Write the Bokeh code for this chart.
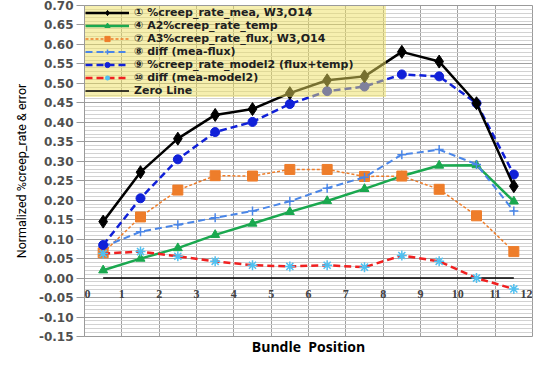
from bokeh.plotting import figure
from bokeh.models import Range1d, FixedTicker, NumeralTickFormatter, ColumnDataSource, LabelSet
from bokeh.embed import file_html
from bokeh.resources import INLINE

# ---- data ----
positions = [0.5, 1.5, 2.5, 3.5, 4.5, 5.5, 6.5, 7.5, 8.5, 9.5, 10.5, 11.5]
mea = [0.145, 0.272, 0.358, 0.419, 0.434, 0.475, 0.508, 0.518, 0.581, 0.556, 0.449, 0.236]
temp = [0.020, 0.050, 0.077, 0.111, 0.140, 0.170, 0.198, 0.229, 0.262, 0.289, 0.290, 0.197]
flux = [0.065, 0.157, 0.226, 0.263, 0.262, 0.279, 0.279, 0.261, 0.262, 0.228, 0.160, 0.068]
diff_flux = [0.080, 0.119, 0.137, 0.155, 0.172, 0.197, 0.231, 0.259, 0.317, 0.330, 0.292, 0.172]
model2 = [0.085, 0.205, 0.305, 0.375, 0.401, 0.447, 0.480, 0.492, 0.523, 0.518, 0.449, 0.266]
diff_model2 = [0.063, 0.068, 0.056, 0.043, 0.033, 0.030, 0.033, 0.028, 0.058, 0.043, 0.000, -0.028]
zero_line = [0.0] * 12

x_ticks = [0, 1, 2, 3, 4, 5, 6, 7, 8, 9, 10, 11, 12]
x_tick_labels = [str(t) for t in x_ticks]
y_ticks = [-0.15, -0.10, -0.05, 0.00, 0.05, 0.10, 0.15, 0.20, 0.25, 0.30, 0.35,
           0.40, 0.45, 0.50, 0.55, 0.60, 0.65, 0.70]
y_minor = [round(-0.15 + 0.01 * i, 2) for i in range(86)]

labels = {
    "mea": "\u2460 %creep_rate_mea, W3,O14",
    "temp": "\u2463 A2%creep_rate_temp",
    "flux": "\u2466 A3%creep_rate_flux, W3,O14",
    "dflux": "\u2467 diff (mea-flux)",
    "model2": "\u2468 %creep_rate_model2 (flux+temp)",
    "dmodel2": "\u2469 diff (mea-model2)",
    "zero": "Zero Line",
}

p = figure(frame_width=448, frame_height=331, output_backend="svg", toolbar_location=None,
           x_range=Range1d(0, 12), y_range=Range1d(-0.15, 0.70),
           min_border_left=84, min_border_top=5, min_border_right=3, min_border_bottom=0)

p.background_fill_color = "white"
p.border_fill_color = "white"
p.outline_line_color = "#9a9a9a"

# grids
p.xgrid.ticker = FixedTicker(ticks=x_ticks)
p.xgrid.grid_line_color = "#a0a0a0"
p.ygrid.ticker = FixedTicker(ticks=y_ticks, minor_ticks=y_minor)
p.ygrid.grid_line_color = "#a0a0a0"
p.ygrid.minor_grid_line_color = "#d2d2d2"

# y axis
p.yaxis.ticker = FixedTicker(ticks=y_ticks, minor_ticks=y_minor)
p.yaxis.formatter = NumeralTickFormatter(format="0.00")
p.yaxis.major_label_text_font = "DejaVu Sans"
p.yaxis.major_label_text_font_size = "12px"
p.yaxis.major_label_text_font_style = "bold"
p.yaxis.major_label_text_color = "#505050"
p.yaxis.major_tick_out = 8
p.yaxis.major_tick_in = 0
p.yaxis.major_tick_line_color = "#9a9a9a"
p.yaxis.minor_tick_line_color = None
p.yaxis.axis_line_color = "#9a9a9a"
p.yaxis.major_label_standoff = 3
p.yaxis.axis_label = "Normalized %creep_rate & error"
p.yaxis.axis_label_text_font = "Roboto"
p.yaxis.axis_label_text_font_size = "12.5px"
p.yaxis.axis_label_text_font_style = "normal"
p.yaxis.axis_label_text_color = "black"
p.yaxis.axis_label_standoff = 7

# x axis: title only, tick labels drawn next to the zero line
p.xaxis.ticker = FixedTicker(ticks=[])
p.xaxis.major_label_standoff = 0
p.xaxis.major_tick_out = 0
p.xaxis.major_tick_in = 0
p.xaxis.minor_tick_line_color = None
p.xaxis.major_tick_line_color = None
p.xaxis.axis_line_color = None
p.xaxis.axis_label = "Bundle\u00a0\u00a0Position"
p.xaxis.axis_label_text_font = "Open Sans"
p.xaxis.axis_label_text_font_size = "14px"
p.xaxis.axis_label_text_font_style = "bold"
p.xaxis.axis_label_text_color = "black"
p.xaxis.axis_label_standoff = 0

tick_align = ["left" if t == x_ticks[0] else ("right" if t == x_ticks[-1] else "center")
              for t in x_ticks]
tick_src = ColumnDataSource(dict(x=x_ticks, y=[-0.04] * len(x_ticks), t=x_tick_labels,
                                 a=tick_align))
p.add_layout(LabelSet(x="x", y="y", text="t", source=tick_src, text_align="a",
                      text_baseline="middle", text_font="DejaVu Sans", text_font_size="12px",
                      text_font_style="bold", text_color="#404040"))

# series
p.line(positions, zero_line, line_color="black", line_width=1.5, legend_label=labels["zero"])

p.line(positions, temp, line_color="#1aa84f", line_width=2.5, legend_label=labels["temp"])
p.scatter(positions, temp, marker="triangle", size=9, fill_color="#1aa84f",
          line_color="#1aa84f", legend_label=labels["temp"])

p.line(positions, flux, line_color="#ee7d2a", line_width=1.5, line_dash="3 2",
       legend_label=labels["flux"])
p.scatter(positions, flux, marker="square", size=10, fill_color="#ee7d2a",
          line_color="#ee7d2a", legend_label=labels["flux"])

p.line(positions, diff_flux, line_color="#4a86e8", line_width=2, line_dash="7 4",
       legend_label=labels["dflux"])
p.scatter(positions, diff_flux, marker="cross", size=9, line_color="#4a86e8",
          line_width=1.5, legend_label=labels["dflux"])

p.line(positions, diff_model2, line_color="#f02020", line_width=2.5, line_dash="7 4",
       legend_label=labels["dmodel2"])
p.scatter(positions, diff_model2, marker="asterisk", size=10, line_color="#50c0f0",
          line_width=1.5, legend_label=labels["dmodel2"])

p.line(positions, model2, line_color="#1020d8", line_width=2.5, line_dash="7 4",
       legend_label=labels["model2"])
p.scatter(positions, model2, marker="circle", size=9, fill_color="#1020d8",
          line_color="#1020d8", legend_label=labels["model2"])

p.line(positions, mea, line_color="black", line_width=2.5, legend_label=labels["mea"])
p.scatter(positions, mea, marker="diamond", size=13, fill_color="black",
          line_color="black", legend_label=labels["mea"])

# legend order as in the reference
leg = p.legend[0]
order = [labels[k] for k in ["mea", "temp", "flux", "dflux", "model2", "dmodel2", "zero"]]
items = {it.label.value: it for it in leg.items}
leg.items = [items[k] for k in order]
leg.location = "top_left"
leg.margin = 1
leg.padding = 4
leg.spacing = 0
leg.label_height = 13
leg.glyph_height = 13
leg.glyph_width = 44
leg.label_standoff = 5
leg.label_width = 252
leg.label_text_font = "DejaVu Sans"
leg.label_text_font_size = "11px"
leg.label_text_font_style = "bold"
leg.label_text_color = "#202020"
leg.background_fill_color = "#eee060"
leg.background_fill_alpha = 0.5
leg.border_line_color = None

open("out.html", "w").write(file_html(p, INLINE))
